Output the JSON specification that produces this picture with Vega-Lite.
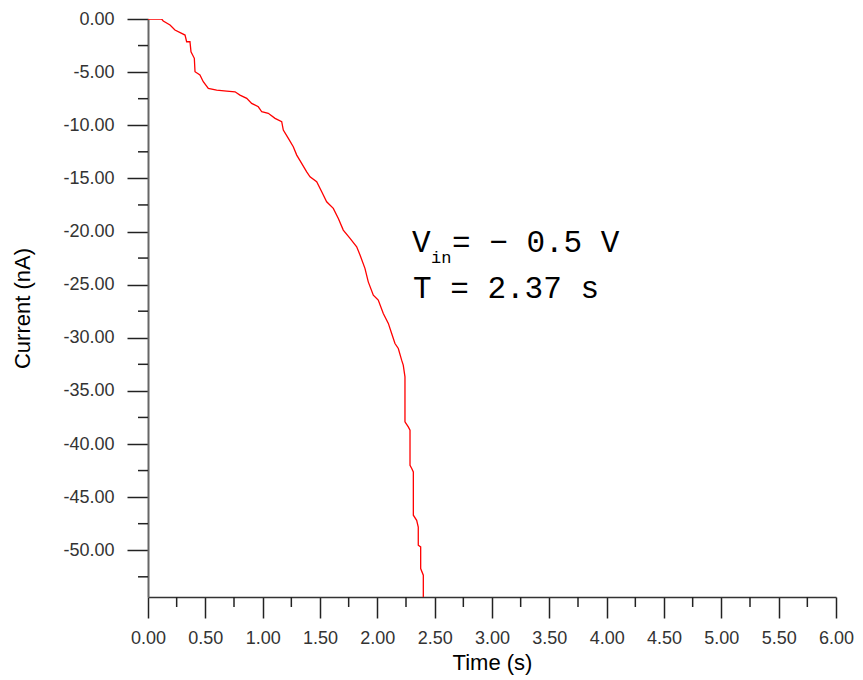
{
  "$schema": "https://vega.github.io/schema/vega-lite/v6.json",
  "width": 688,
  "height": 578,
  "autosize": "none",
  "padding": {"left": 148, "top": 19, "right": 27, "bottom": 83},
  "background": "white",
  "config": {
    "view": {"stroke": null},
    "axis": {
      "labelFont": "Liberation Sans",
      "labelFontSize": 18,
      "labelColor": "#333333",
      "titleFont": "Liberation Sans",
      "titleFontSize": 22,
      "titleFontWeight": "normal",
      "titleColor": "#000000",
      "grid": false,
      "labelOverlap": false,
      "labelFlush": false,
      "labelBound": false,
      "tickColor": "#222222",
      "tickWidth": 1.5,
      "tickSize": 21
    }
  },
  "datasets": {
    "curve": [
      {"i": 1, "t": 0.0, "I": 0.0},
      {"i": 2, "t": 0.119, "I": 0.0},
      {"i": 3, "t": 0.133, "I": -0.19},
      {"i": 4, "t": 0.192, "I": -0.56},
      {"i": 5, "t": 0.235, "I": -1.04},
      {"i": 6, "t": 0.323, "I": -1.51},
      {"i": 7, "t": 0.337, "I": -2.14},
      {"i": 8, "t": 0.366, "I": -2.14},
      {"i": 9, "t": 0.375, "I": -3.08},
      {"i": 10, "t": 0.404, "I": -3.70},
      {"i": 11, "t": 0.410, "I": -4.96},
      {"i": 12, "t": 0.453, "I": -5.27},
      {"i": 13, "t": 0.482, "I": -5.90},
      {"i": 14, "t": 0.526, "I": -6.53},
      {"i": 15, "t": 0.599, "I": -6.69},
      {"i": 16, "t": 0.686, "I": -6.78},
      {"i": 17, "t": 0.759, "I": -6.85},
      {"i": 18, "t": 0.802, "I": -7.16},
      {"i": 19, "t": 0.861, "I": -7.47},
      {"i": 20, "t": 0.904, "I": -7.94},
      {"i": 21, "t": 0.962, "I": -8.26},
      {"i": 22, "t": 0.992, "I": -8.73},
      {"i": 23, "t": 1.049, "I": -8.88},
      {"i": 24, "t": 1.108, "I": -9.35},
      {"i": 25, "t": 1.166, "I": -9.67},
      {"i": 26, "t": 1.180, "I": -10.45},
      {"i": 27, "t": 1.224, "I": -11.23},
      {"i": 28, "t": 1.267, "I": -12.02},
      {"i": 29, "t": 1.297, "I": -12.81},
      {"i": 30, "t": 1.340, "I": -13.59},
      {"i": 31, "t": 1.384, "I": -14.38},
      {"i": 32, "t": 1.413, "I": -14.85},
      {"i": 33, "t": 1.471, "I": -15.32},
      {"i": 34, "t": 1.515, "I": -16.26},
      {"i": 35, "t": 1.558, "I": -17.20},
      {"i": 36, "t": 1.616, "I": -17.82},
      {"i": 37, "t": 1.660, "I": -18.77},
      {"i": 38, "t": 1.703, "I": -19.87},
      {"i": 39, "t": 1.762, "I": -20.65},
      {"i": 40, "t": 1.820, "I": -21.44},
      {"i": 41, "t": 1.849, "I": -22.22},
      {"i": 42, "t": 1.892, "I": -23.47},
      {"i": 43, "t": 1.921, "I": -24.74},
      {"i": 44, "t": 1.965, "I": -25.99},
      {"i": 45, "t": 2.008, "I": -26.46},
      {"i": 46, "t": 2.052, "I": -27.71},
      {"i": 47, "t": 2.096, "I": -28.65},
      {"i": 48, "t": 2.125, "I": -29.60},
      {"i": 49, "t": 2.154, "I": -30.54},
      {"i": 50, "t": 2.183, "I": -31.01},
      {"i": 51, "t": 2.212, "I": -32.11},
      {"i": 52, "t": 2.226, "I": -32.58},
      {"i": 53, "t": 2.241, "I": -33.68},
      {"i": 54, "t": 2.241, "I": -37.92},
      {"i": 55, "t": 2.270, "I": -38.39},
      {"i": 56, "t": 2.285, "I": -38.70},
      {"i": 57, "t": 2.285, "I": -42.00},
      {"i": 58, "t": 2.300, "I": -42.31},
      {"i": 59, "t": 2.314, "I": -42.63},
      {"i": 60, "t": 2.314, "I": -46.70},
      {"i": 61, "t": 2.343, "I": -47.18},
      {"i": 62, "t": 2.357, "I": -47.81},
      {"i": 63, "t": 2.357, "I": -49.53},
      {"i": 64, "t": 2.378, "I": -49.69},
      {"i": 65, "t": 2.378, "I": -51.72},
      {"i": 66, "t": 2.401, "I": -52.35},
      {"i": 67, "t": 2.401, "I": -54.4}
    ],
    "yminor": [
      {"v": -2.5}, {"v": -7.5}, {"v": -12.5}, {"v": -17.5}, {"v": -22.5}, {"v": -27.5},
      {"v": -32.5}, {"v": -37.5}, {"v": -42.5}, {"v": -47.5}, {"v": -52.5}
    ],
    "xminor": [
      {"v": 0.25}, {"v": 0.75}, {"v": 1.25}, {"v": 1.75}, {"v": 2.25}, {"v": 2.75},
      {"v": 3.25}, {"v": 3.75}, {"v": 4.25}, {"v": 4.75}, {"v": 5.25}, {"v": 5.75}
    ],
    "note": [
      {"t": 2.302, "I": -21.94, "label": "V"},
      {"t": 2.651, "I": -21.94, "label": "= − 0.5 V"},
      {"t": 2.311, "I": -26.27, "label": "T = 2.37 s"}
    ],
    "sub": [
      {"t": 2.468, "I": -22.98, "label": "in"}
    ]
  },
  "layer": [
    {
      "data": {"name": "curve"},
      "mark": {"type": "line", "color": "#ff0000", "strokeWidth": 1.3, "clip": true},
      "encoding": {
        "x": {
          "field": "t", "type": "quantitative",
          "scale": {"domain": [0, 6], "nice": false, "zero": false},
          "axis": {
            "title": "Time (s)",
            "values": [0,0.5,1,1.5,2,2.5,3,3.5,4,4.5,5,5.5,6],
            "format": ".2f",
            "labelPadding": 11,
            "titlePadding": 5,
            "domainColor": "#333333",
            "domainWidth": 1.5
          }
        },
        "y": {
          "field": "I", "type": "quantitative",
          "scale": {"domain": [-54.4, 0], "nice": false, "zero": false},
          "axis": {
            "title": "Current (nA)",
            "values": [0,-5,-10,-15,-20,-25,-30,-35,-40,-45,-50],
            "labelExpr": "(datum.value < 0 ? '-' : '') + format(abs(datum.value), '.2f')",
            "labelPadding": 13,
            "titlePadding": 28,
            "domainColor": "#666666",
            "domainWidth": 2
          }
        },
        "order": {"field": "i", "type": "quantitative"}
      }
    },
    {
      "data": {"name": "yminor"},
      "mark": {"type": "rule", "color": "#222222", "strokeWidth": 1.5},
      "encoding": {
        "y": {"field": "v", "type": "quantitative"},
        "x": {"datum": 0},
        "x2": {"datum": -0.087}
      }
    },
    {
      "data": {"name": "xminor"},
      "mark": {"type": "rule", "color": "#222222", "strokeWidth": 1.5},
      "encoding": {
        "x": {"field": "v", "type": "quantitative"},
        "y": {"datum": -54.4},
        "y2": {"datum": -55.34}
      }
    },
    {
      "data": {"name": "note"},
      "mark": {"type": "text", "font": "Liberation Mono", "fontSize": 31, "align": "left", "baseline": "alphabetic", "color": "#000000"},
      "encoding": {
        "x": {"field": "t", "type": "quantitative"},
        "y": {"field": "I", "type": "quantitative"},
        "text": {"field": "label", "type": "nominal"}
      }
    },
    {
      "data": {"name": "sub"},
      "mark": {"type": "text", "font": "Liberation Mono", "fontSize": 17, "align": "left", "baseline": "alphabetic", "color": "#000000"},
      "encoding": {
        "x": {"field": "t", "type": "quantitative"},
        "y": {"field": "I", "type": "quantitative"},
        "text": {"field": "label", "type": "nominal"}
      }
    }
  ]
}
